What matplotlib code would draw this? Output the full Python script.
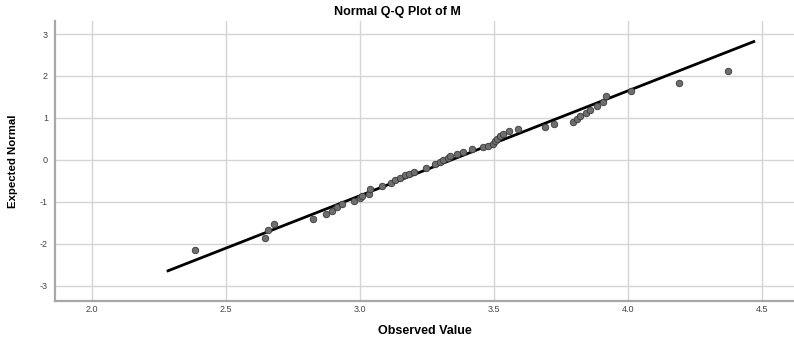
import matplotlib
matplotlib.use("Agg")
import matplotlib.pyplot as plt

observed = [2.383, 2.646, 2.658, 2.678, 2.826, 2.873, 2.897, 2.915, 2.934, 2.979,
            3.000, 3.006, 3.034, 3.037, 3.081, 3.115, 3.131, 3.149, 3.168, 3.184,
            3.201, 3.246, 3.280, 3.299, 3.311, 3.330, 3.336, 3.361, 3.386, 3.420,
            3.460, 3.479, 3.497, 3.505, 3.510, 3.522, 3.535, 3.558, 3.590, 3.692,
            3.724, 3.796, 3.809, 3.821, 3.843, 3.858, 3.883, 3.908, 3.917, 4.011,
            4.189, 4.372]
expected = [-2.14, -1.85, -1.66, -1.52, -1.40, -1.29, -1.21, -1.12, -1.05, -0.98,
            -0.91, -0.85, -0.80, -0.69, -0.63, -0.56, -0.48, -0.42, -0.37, -0.33,
            -0.29, -0.18, -0.10, -0.06, -0.01, 0.05, 0.10, 0.14, 0.20, 0.25,
            0.31, 0.34, 0.38, 0.44, 0.50, 0.56, 0.63, 0.68, 0.73, 0.79,
            0.86, 0.91, 0.98, 1.04, 1.12, 1.19, 1.29, 1.39, 1.52, 1.65,
            1.84, 2.13]

# reference line end points
line_x = [2.284, 4.47]
line_y = [-2.64, 2.82]

x_ticks = [2.0, 2.5, 3.0, 3.5, 4.0, 4.5]
x_tick_labels = ["2.0", "2.5", "3.0", "3.5", "4.0", "4.5"]
y_ticks = [-3, -2, -1, 0, 1, 2, 3]
y_tick_labels = ["-3", "-2", "-1", "0", "1", "2", "3"]

plt.rcParams["font.family"] = ["Liberation Sans", "DejaVu Sans"]

fig = plt.figure(figsize=(7.94, 3.42), dpi=100)
ax = fig.add_axes([55 / 794, 41 / 342, 739 / 794, 280 / 342])

ax.plot(line_x, line_y, color="black", linewidth=2.0, zorder=3)
ax.scatter(observed, expected, s=22, facecolor="#6e6e6e", edgecolor="#3a3a3a",
           linewidth=0.6, zorder=4)

ax.set_xlim(1.862, 4.62)
ax.set_ylim(-3.36, 3.31)
ax.set_xticks(x_ticks)
ax.set_xticklabels(x_tick_labels)
ax.set_yticks(y_ticks)
ax.set_yticklabels(y_tick_labels)
ax.tick_params(axis="both", length=0, labelsize=6.5, labelcolor="#444444")
ax.tick_params(axis="x", pad=3)
ax.tick_params(axis="y", pad=5)

ax.grid(True, color="#d4d4d4", linewidth=1.0)
ax.set_axisbelow(True)
for side in ["top", "right"]:
    ax.spines[side].set_visible(False)
for side in ["left", "bottom"]:
    ax.spines[side].set_color("#a8a8a8")
    ax.spines[side].set_linewidth(1.6)

ax.set_xlabel("Observed Value", fontsize=9, fontweight="bold")
ax.xaxis.set_label_coords(0.5, -0.085)
ax.set_ylabel("Expected Normal", fontsize=8.2, fontweight="bold")
ax.yaxis.set_label_coords(-0.05, 0.5)
fig.text(0.5, 1 - 12 / 342, "Normal Q-Q Plot of M", ha="center", va="center",
         fontsize=9, fontweight="bold")

fig.savefig("out.png", dpi=100)
